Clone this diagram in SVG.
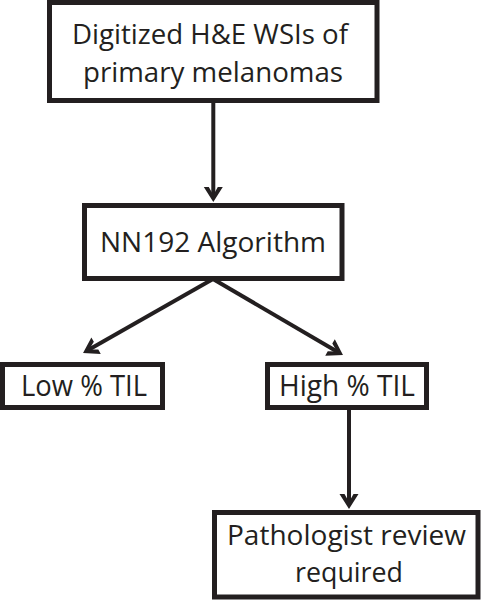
<svg xmlns="http://www.w3.org/2000/svg" width="481" height="600" viewBox="0 0 481 600">
<style>
.box{fill:#fff;stroke:#231f20;stroke-width:5}
.lbl{font-family:"Open Sans","Liberation Sans",sans-serif;fill:#231f20;text-anchor:middle}
.conn{stroke:#231f20;stroke-width:4;fill:none;marker-end:url(#ah)}
</style>
<defs>
<marker id="ah" markerUnits="userSpaceOnUse" markerWidth="40" markerHeight="40" refX="0" refY="0" orient="auto" overflow="visible" viewBox="-20 -20 40 40">
<path d="M6,0 L-9,-9.5 L-9,-4.5 L-1,0 L-9,4.5 L-9,9.5 Z" fill="#231f20"/>
</marker>
</defs>
<rect width="481" height="600" fill="#fff"/>
<g id="connectors">
<line class="conn" x1="213.3" y1="103" x2="213.3" y2="196"/>
<line class="conn" x1="213" y1="279" x2="88.25" y2="350.1"/>
<line class="conn" x1="213" y1="279" x2="337.8" y2="352"/>
<line class="conn" x1="349" y1="410" x2="349" y2="503"/>
</g>
<g id="n-input">
<rect class="box" x="49.5" y="2.5" width="327.5" height="98"/>
<text class="lbl" x="210" y="44" font-size="27" textLength="276" lengthAdjust="spacingAndGlyphs">Digitized H&amp;E WSIs of</text>
<text class="lbl" x="213" y="82" font-size="27" textLength="260" lengthAdjust="spacingAndGlyphs">primary melanomas</text>
</g>
<g id="n-algo">
<rect class="box" x="84.5" y="205.5" width="257.5" height="73"/>
<text class="lbl" x="213" y="252" font-size="28" textLength="226" lengthAdjust="spacingAndGlyphs">NN192 Algorithm</text>
</g>
<g id="n-low">
<rect class="box" x="2.5" y="364.5" width="160" height="43"/>
<text class="lbl" x="84" y="396" font-size="30" textLength="126" lengthAdjust="spacingAndGlyphs">Low % TIL</text>
</g>
<g id="n-high">
<rect class="box" x="267.5" y="364.5" width="159" height="43"/>
<text class="lbl" x="347" y="396" font-size="30" textLength="136" lengthAdjust="spacingAndGlyphs">High % TIL</text>
</g>
<g id="n-review">
<rect class="box" x="214.5" y="512.5" width="263.5" height="84.5"/>
<text class="lbl" x="346.5" y="545" font-size="27" textLength="239" lengthAdjust="spacingAndGlyphs">Pathologist review</text>
<text class="lbl" x="349" y="582" font-size="27" textLength="108" lengthAdjust="spacingAndGlyphs">required</text>
</g>
</svg>
